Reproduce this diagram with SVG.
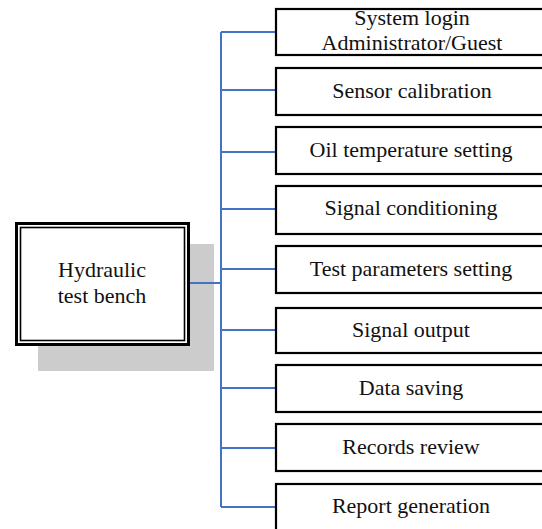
<svg xmlns="http://www.w3.org/2000/svg" width="542" height="529" viewBox="0 0 542 529">
<style>
.box{fill:#fff;stroke:#000;stroke-width:2.2}
.t{font-family:"Liberation Serif","Times New Roman",serif;font-size:22px;fill:#111;text-anchor:middle}
.c{stroke:#4472c4;stroke-width:2;fill:none}
</style>
<rect x="0" y="0" width="542" height="529" fill="#fff"/>
<g id="main">
<rect x="38" y="244" width="176" height="127" fill="#cccccc" rx="1"/>
<rect x="16.5" y="223.5" width="172" height="121" fill="#fff" stroke="#000" stroke-width="3"/>
<rect x="20.5" y="227.5" width="164" height="113" fill="none" stroke="#000" stroke-width="1.6"/>
<text class="t" x="102" y="277">Hydraulic</text>
<text class="t" x="102" y="303">test bench</text>
</g>
<g id="connectors">
<path class="c" d="M190 283H221M221 32V507M221 32H276M221 90H276M221 152H276M221 209H276M221 269H276M221 330H276M221 388H276M221 448H276M221 507H276"/>
</g>
<g id="n1"><rect class="box" x="276" y="9" width="280" height="46"/><text class="t" x="412" y="25">System login</text><text class="t" x="412" y="50">Administrator/Guest</text></g>
<g id="n2"><rect class="box" x="276" y="68" width="280" height="47"/><text class="t" x="412" y="98">Sensor calibration</text></g>
<g id="n3"><rect class="box" x="276" y="127" width="280" height="47"/><text class="t" x="411" y="157">Oil temperature setting</text></g>
<g id="n4"><rect class="box" x="276" y="186" width="280" height="48"/><text class="t" x="411" y="215">Signal conditioning</text></g>
<g id="n5"><rect class="box" x="276" y="246" width="280" height="47"/><text class="t" x="411" y="276">Test parameters setting</text></g>
<g id="n6"><rect class="box" x="276" y="308" width="280" height="45"/><text class="t" x="411" y="337">Signal output</text></g>
<g id="n7"><rect class="box" x="276" y="365" width="280" height="47"/><text class="t" x="411" y="395">Data saving</text></g>
<g id="n8"><rect class="box" x="276" y="424" width="280" height="47"/><text class="t" x="411" y="454">Records review</text></g>
<g id="n9"><rect class="box" x="276" y="484" width="280" height="60"/><text class="t" x="411" y="513">Report generation</text></g>
</svg>
